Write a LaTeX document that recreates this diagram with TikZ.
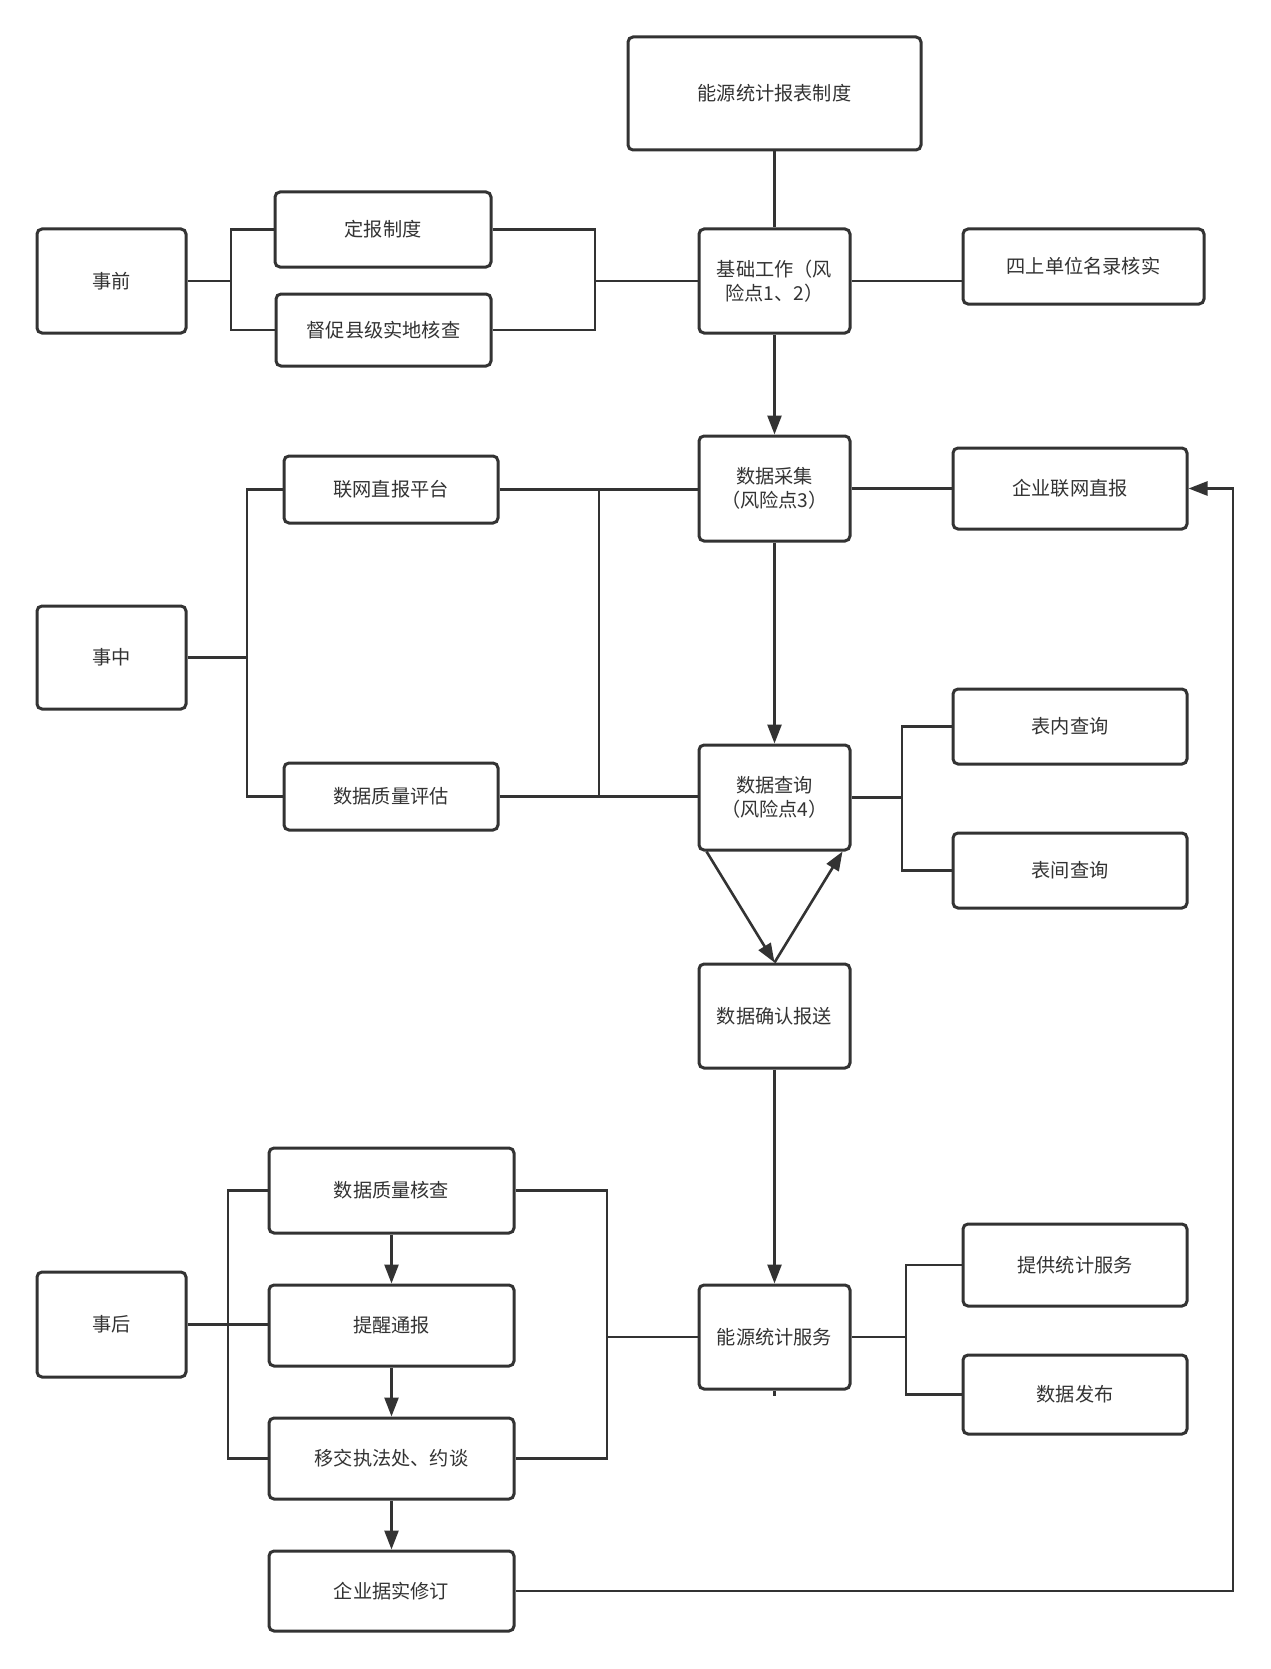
\documentclass[tikz,border=0pt]{standalone}
\usepackage{fontspec}
\setmainfont{Noto Sans CJK SC}
\usetikzlibrary{arrows.meta,calc}
\definecolor{edgegray}{HTML}{333333}
\definecolor{textgray}{HTML}{333333}

\begin{document}
\begin{tikzpicture}[x=0.5pt,y=-0.5pt,
  box/.style={draw=edgegray,line width=1.5pt,rounded corners=2.5pt,fill=white,align=center,text=textgray,
    font=\fontsize{9.6pt}{12pt}\selectfont,inner sep=2pt},
  link/.style={draw=edgegray,line width=1.45pt},
  plain/.style={draw=edgegray,line width=1.2pt},
  flow/.style={draw=edgegray,line width=1.3pt,-{Triangle[length=9.5pt,width=7pt]}}]
\useasboundingbox (0,0) rectangle (1270,1669);

% top part
\node[box,minimum width=146.5pt,minimum height=56.5pt] (rpt) at (774.5,93.5) {能源统计报表制度};
\node[box,minimum width=75.5pt,minimum height=52pt] (base) at (774.5,281) {基础工作（风\\险点1、2）};
\node[box,minimum width=120.5pt,minimum height=37.5pt] (mulu) at (1083.5,266.5) {四上单位名录核实};
\node[box,minimum width=108pt,minimum height=37.5pt] (dingbao) at (383,229.5) {定报制度};
\node[box,minimum width=107.5pt,minimum height=36pt] (duchu) at (383.5,330) {督促县级实地核查};
\node[box,minimum width=74.5pt,minimum height=52pt] (before) at (111.5,281) {事前};

% middle part
\node[box,minimum width=75.5pt,minimum height=52.5pt] (collect) at (774.5,488.5) {数据采集\\（风险点3）};
\node[box,minimum width=117pt,minimum height=40.5pt] (qiye) at (1070,488.5) {企业联网直报};
\node[box,minimum width=107pt,minimum height=33.5pt] (platform) at (391,489.5) {联网直报平台};
\node[box,minimum width=74.5pt,minimum height=51.5pt] (during) at (111.5,657.5) {事中};
\node[box,minimum width=107pt,minimum height=33.5pt] (assess) at (391,796.5) {数据质量评估};
\node[box,minimum width=75.5pt,minimum height=52.5pt] (query) at (774.5,797.5) {数据查询\\（风险点4）};
\node[box,minimum width=117pt,minimum height=37.5pt] (inner) at (1070,726.5) {表内查询};
\node[box,minimum width=117pt,minimum height=37.5pt] (cross) at (1070,870.5) {表间查询};
\node[box,minimum width=75.5pt,minimum height=52pt] (confirm) at (774.5,1016) {数据确认报送};

% bottom part
\node[box,minimum width=75.5pt,minimum height=52pt] (service) at (774.5,1337) {能源统计服务};
\node[box,minimum width=112pt,minimum height=41pt] (provide) at (1075,1265) {提供统计服务};
\node[box,minimum width=112pt,minimum height=39.5pt] (publish) at (1075,1394.5) {数据发布};
\node[box,minimum width=74.5pt,minimum height=52.5pt] (after) at (111.5,1324.5) {事后};
\node[box,minimum width=122.5pt,minimum height=42.5pt] (check) at (391.5,1190.5) {数据质量核查};
\node[box,minimum width=122.5pt,minimum height=40.5pt] (remind) at (391.5,1325.5) {提醒通报};
\node[box,minimum width=122.5pt,minimum height=40.5pt] (transfer) at (391.5,1458.5) {移交执法处、约谈};
\node[box,minimum width=122.5pt,minimum height=40pt] (revise) at (391.5,1591) {企业据实修订};

% junctions
\coordinate (jb1) at (231,281);
\coordinate (jb2) at (595,281);
\coordinate (jd1) at (247,657.5);
\coordinate (jd2) at (599,489);
\coordinate (jq) at (902,797.5);
\coordinate (js) at (906,1337);
\coordinate (ja1) at (228,1325);
\coordinate (ja2) at (607,1337);
\coordinate (back) at (1233,1591);

% connectors
\draw[plain] (rpt) -- (base);
\draw[link] (before) -- (jb1);
\draw[link] (dingbao.west) -| (jb1) |- (duchu.west);
\draw[link] (dingbao.east) -| (jb2) |- (duchu.east);
\draw[link] (jb2) -- (base.west);
\draw[link] (base.east) -- (base.east -| mulu.west);
\draw[flow] (base) -- (collect);

\draw[link] (during) -- (jd1);
\draw[link] (platform.west) -| (jd1) |- (assess.west);
\draw[link] (platform.east) -- (platform.east -| collect.west);
\draw[link] (assess.east) -- (assess.east -| query.west);
\draw[link] (jd2) -- (jd2 |- assess.east);
\draw[link] (collect) -- (qiye);
\draw[flow] (collect) -- (query);
\draw[link] (query) -- (jq);
\draw[link] (inner.west) -| (jq) |- (cross.west);
\draw[flow] ($(query.south west)+(9,0)$) -- (confirm.north);
\draw[flow] (confirm.north) -- ($(query.south east)+(-9,0)$);
\draw[flow] (confirm) -- (service);

\draw[link] (service) -- (js);
\draw[link] (provide.west) -| (js) |- (publish.west);
\draw[plain] (service.south) -- ++(0,5);
\draw[link] (after.east) -- (after.east -| remind.west);
\draw[link] (check.west) -| (ja1) |- (transfer.west);
\draw[link] (check.east) -| (ja2) |- (transfer.east);
\draw[link] (ja2) -- (service.west);
\draw[flow] (check) -- (remind);
\draw[flow] (remind) -- (transfer);
\draw[flow] (transfer) -- (revise);
\draw[flow] (revise.east) -- (back) |- (qiye.east);
\end{tikzpicture}
\end{document}
